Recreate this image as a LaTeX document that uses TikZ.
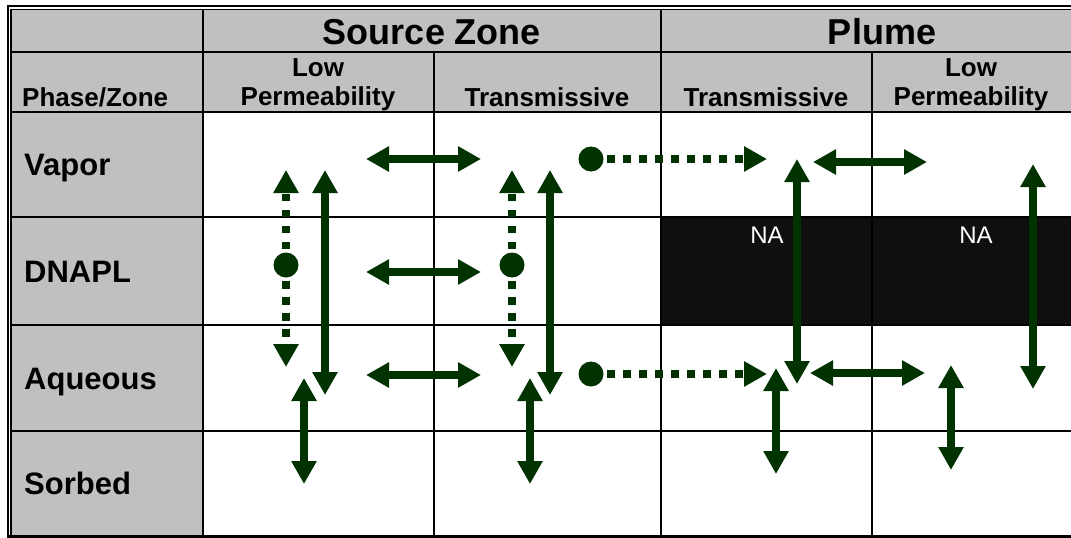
\documentclass[tikz,border=0pt]{standalone}
\usepackage{fontspec}
\setmainfont{Liberation Sans}
\usetikzlibrary{arrows.meta}

\definecolor{fluxgreen}{RGB}{0,51,0}
\definecolor{cellgray}{RGB}{192,192,192}
\definecolor{nafill}{RGB}{15,15,15}

\tikzset{
  gridline/.style={line width=2.2pt},
  flux/.style={draw=fluxgreen,line width=8pt,{Triangle[length=23pt,width=24pt]}-{Triangle[length=23pt,width=24pt]}},
  leak/.style={draw=fluxgreen,line width=8pt,dash pattern=on 7.5pt off 8.5pt,-{Triangle[length=23pt,width=24pt]}},
  srcdot/.style={circle,fill=fluxgreen,minimum size=25pt,inner sep=0pt},
  zonehead/.style={font=\bfseries\fontsize{36}{36}\selectfont,inner sep=0pt,anchor=base},
  colhead/.style={font=\bfseries\fontsize{26}{29}\selectfont,inner sep=0pt,align=center},
  rowlabel/.style={font=\bfseries\fontsize{31}{31}\selectfont,inner sep=0pt,anchor=base west},
  natext/.style={font=\fontsize{24}{24}\selectfont,text=white,inner sep=0pt,anchor=base}
}

\begin{document}
\begin{tikzpicture}[x=1pt,y=-1pt]
\useasboundingbox (0,0) rectangle (1071,538);

% shaded cells
\fill[cellgray] (11,9.5) rectangle (1071,112);
\fill[cellgray] (11,112) rectangle (203,536);
\fill[nafill] (661,217) rectangle (1071,325);

% table rules
\foreach \y in {52,112,217,325,431}
  \draw[gridline] (11,\y) -- (1071,\y);
\foreach \x in {203,661}
  \draw[gridline] (\x,9.5) -- (\x,536);
\foreach \x in {434,872}
  \draw[gridline] (\x,52) -- (\x,536);
\draw[line width=2pt] (8,538) -- (8,6) -- (1071,6);
\draw[line width=1.5pt] (11,538) -- (11,9.5) -- (1071,9.5);
\draw[line width=3pt] (8,536) -- (1071,536);

% headings
\node[zonehead] (source) at (432,44) {Source Zone};
\node[zonehead] (plume) at (882,44) {Plume};
\node[colhead,anchor=base west] (phase) at (22,106) {Phase/Zone};
\node[colhead,anchor=north] (srclow) at (318,58.5) {Low\\Permeability};
\node[colhead,anchor=base] (srctr) at (547,106) {Transmissive};
\node[colhead,anchor=base] (pltr) at (766,106) {Transmissive};
\node[colhead,anchor=north] (pllow) at (971,58.5) {Low\\Permeability};

\node[rowlabel] (vapor) at (24,175.5) {Vapor};
\node[rowlabel] (dnapl) at (24,282) {DNAPL};
\node[rowlabel] (aqueous) at (24,389) {Aqueous};
\node[rowlabel] (sorbed) at (24,494.5) {Sorbed};

\node[natext] (na1) at (767,243) {NA};
\node[natext] (na2) at (976,243) {NA};

% two-way transfers
\foreach \n/\xa/\ya/\xb/\yb in {lowup/325/170/325/395, trup/550/170/550/395,
    vapx/366/159/481/159, dnx/366/272/481/272, aqx/366/375/481/375,
    lowsorb/304/378/304/484, trsorb/530/378/530/484,
    pltrup/797/159/797/384, plvapx/813/162/927/162, plaqx/810/373/925/373,
    pllowup/1033/164/1033/389, pltrsorb/776/368/776/474, pllowsorb/951/365/951/470}
{
  \coordinate (\n-a) at (\xa,\ya);
  \coordinate (\n-b) at (\xb,\yb);
  \draw[flux] (\n-a) -- (\n-b);
}

% DNAPL sources and dissolved plumes
\node[srcdot] (lowdot) at (286,265) {};
\node[srcdot] (trdot) at (512,265) {};
\node[srcdot] (vapdot) at (591,159) {};
\node[srcdot] (aqdot) at (591,374) {};
\coordinate (lowdot-up) at (286,170);
\coordinate (lowdot-dn) at (286,367);
\coordinate (trdot-up) at (512,170);
\coordinate (trdot-dn) at (512,367);
\coordinate (vapdot-end) at (767,159);
\coordinate (aqdot-end) at (767,374);
\foreach \d in {lowdot,trdot}
{
  \draw[leak] (\d.center) -- (\d-up);
  \draw[leak] (\d.center) -- (\d-dn);
}
\draw[leak] (vapdot.center) -- (vapdot-end);
\draw[leak] (aqdot.center) -- (aqdot-end);

\end{tikzpicture}
\end{document}
